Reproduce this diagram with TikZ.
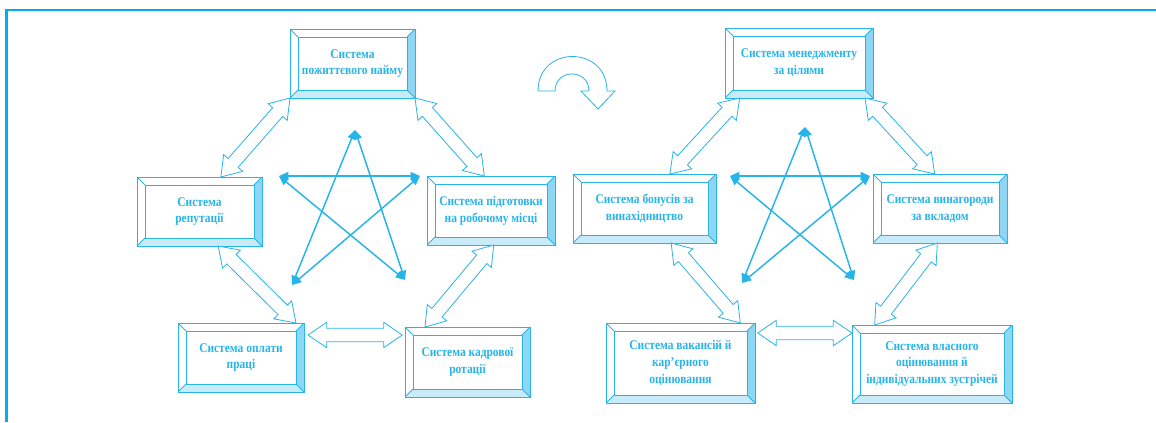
\documentclass[tikz,border=0pt]{standalone}
\usepackage{fontspec}
\setmainfont{Liberation Serif}[FakeStretch=0.86]
\usepackage{tikz}
\usetikzlibrary{positioning,arrows.meta,calc}
\usepackage{xcolor}

\definecolor{lineblue}{HTML}{27B4E8}
\definecolor{framecol}{HTML}{00AEEF}
\definecolor{facelight}{HTML}{C8EBF9}
\definecolor{facemid}{HTML}{8DD7F5}

\def\ppb{path picture bounding box}
\tikzset{
  panel/.style={draw=lineblue, line width=0.7pt, outer sep=0pt, inner sep=2pt,
    align=center, text=lineblue, font=\fontsize{10}{12.5}\selectfont\bfseries,
    path picture={
      \fill[facelight] (\ppb.south west) -- (\ppb.south east)
        -- ([shift={(-6pt,6pt)}]\ppb.south east) -- ([shift={(6pt,6pt)}]\ppb.south west) -- cycle;
      \fill[facemid] (\ppb.south east) -- (\ppb.north east)
        -- ([shift={(-6pt,-6pt)}]\ppb.north east) -- ([shift={(-6pt,6pt)}]\ppb.south east) -- cycle;
      \draw[lineblue, line width=0.6pt] ([shift={(6pt,6pt)}]\ppb.south west) rectangle ([shift={(-6pt,-6pt)}]\ppb.north east);
      \draw[lineblue, line width=0.6pt] (\ppb.south west) -- ++(6pt,6pt) (\ppb.south east) -- ++(-6pt,6pt)
        (\ppb.north west) -- ++(6pt,-6pt) (\ppb.north east) -- ++(-6pt,-6pt);
    }},
  hollow/.style={draw=lineblue, fill=white, line width=0.6pt, line join=miter},
  starline/.style={lineblue, line width=1.1pt, <->}
}

% wide double arrow with open heads from #1 to #2
\newcommand{\hollowarrow}[2]{%
  \coordinate (p) at (#1);
  \coordinate (q) at (#2);
  \coordinate (ha) at ($(p)!14pt!(q)$);
  \coordinate (hb) at ($(q)!14pt!(p)$);
  \draw[hollow] (p) -- ($(ha)!9.5pt!90:(q)$) -- ($(ha)!5pt!90:(q)$) -- ($(hb)!5pt!-90:(p)$)
    -- ($(hb)!9.5pt!-90:(p)$) -- (q) -- ($(hb)!9.5pt!90:(p)$) -- ($(hb)!5pt!90:(p)$)
    -- ($(ha)!5pt!-90:(q)$) -- ($(ha)!9.5pt!-90:(q)$) -- cycle;}

\begin{document}
\begin{tikzpicture}[x=0.75pt,y=-0.75pt,>={Triangle[length=7pt,width=6pt]}]
\useasboundingbox (0,0) rectangle (1156,422);
\draw[framecol, line width=2.2pt] (1156,10) -- (6.5,10) -- (6.5,422);

% left group
\node[panel, minimum width=93.75pt, minimum height=51.75pt] (life) at (352.5,63.5) {Система\\пожиттєвого найму};
\node[panel, minimum width=93.75pt, minimum height=51.75pt] (rep) at (199.5,211.5) {Система\\репутації};
\node[panel, minimum width=96pt, minimum height=51.75pt] (train) at (491,210.5) {Система підготовки\\на робочому місці};
\node[panel, minimum width=94.5pt, minimum height=51.75pt] (pay) at (241,357.5) {Система оплати\\праці};
\node[panel, minimum width=93.75pt, minimum height=52.5pt] (rot) at (467.5,362) {Система кадрової\\ротації};

\hollowarrow{life.south west}{[xshift=16pt]rep.north}
\hollowarrow{life.south east}{[xshift=-5pt]train.north}
\hollowarrow{[xshift=14pt]rep.south}{[xshift=-6pt]pay.north east}
\hollowarrow{[xshift=2pt]train.south}{[xshift=15pt]rot.north west}
\hollowarrow{[shift={(3pt,-9pt)}]pay.north east}{[shift={(-2pt,-6pt)}]rot.north west}

\coordinate (lt) at (355,130);
\coordinate (ll) at (279,176);
\coordinate (lr) at (420,176);
\coordinate (lbl) at (292,285);
\coordinate (lbr) at (405,280);
\draw[starline] (lt) -- (lbl);
\draw[starline] (lt) -- (lbr);
\draw[starline] (ll) -- (lr);
\draw[starline] (ll) -- (lbr);
\draw[starline] (lr) -- (lbl);

% turn arrow
\draw[hollow] (538,91) .. controls (538,45) and (607,45) .. (607,91) -- (615,91) -- (598,109)
  -- (581,91) -- (589,91) .. controls (589,68.3) and (555,68.3) .. (555,91) -- cycle;

% right group
\node[panel, minimum width=111pt, minimum height=52.5pt] (mbo) at (799,63) {Система менеджменту\\за цілями};
\node[panel, minimum width=107.25pt, minimum height=51.75pt] (bonus) at (644.5,208.5) {Система бонусів за\\винахідництво};
\node[panel, minimum width=100.5pt, minimum height=51.75pt] (reward) at (940,208.5) {Система винагороди\\за вкладом};
\node[panel, minimum width=111.75pt, minimum height=60pt] (vac) at (680.5,363) {Система вакансій й\\кар’єрного\\оцінювання};
\node[panel, minimum width=120pt, minimum height=58.5pt] (self) at (932,364) {Система власного\\оцінювання й\\індивідуальних зустрічей};

\hollowarrow{[xshift=11pt]mbo.south west}{[xshift=19pt]bonus.north}
\hollowarrow{[xshift=-6pt]mbo.south east}{[xshift=-4pt]reward.north}
\hollowarrow{[xshift=20pt]bonus.south}{[xshift=-11pt]vac.north east}
\hollowarrow{[xshift=-2pt]reward.south}{[xshift=17pt]self.north west}
\hollowarrow{[shift={(2pt,-7.5pt)}]vac.north east}{[yshift=-6pt]self.north west}

\coordinate (rt) at (805,127);
\coordinate (rl) at (730,176);
\coordinate (rr) at (870,176);
\coordinate (rbl) at (742,283);
\coordinate (rbr) at (854,280);
\draw[starline] (rt) -- (rbl);
\draw[starline] (rt) -- (rbr);
\draw[starline] (rl) -- (rr);
\draw[starline] (rl) -- (rbr);
\draw[starline] (rr) -- (rbl);
\end{tikzpicture}
\end{document}
